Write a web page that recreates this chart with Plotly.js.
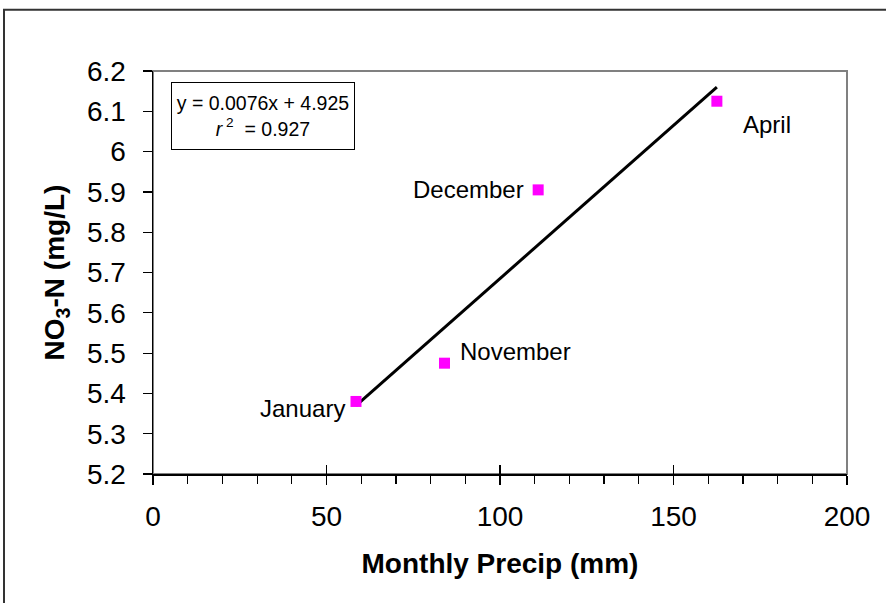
<!DOCTYPE html>
<html>
<head>
<meta charset="utf-8">
<script src="https://cdn.plot.ly/plotly-3.0.1.min.js"></script>
<style>html,body{margin:0;padding:0;background:#fff;}#chart{width:886px;height:603px;}</style>
</head>
<body>
<div id="chart"></div>
<script>
// ---- data ----
const months = ['January', 'November', 'December', 'April'];
const precip = [58.5, 84, 111, 162.5];
const no3 = [5.38, 5.475, 5.905, 6.125];
const slope = 0.0076;
const intercept = 4.925;
const r2 = 0.927;
const xTicks = [0, 50, 100, 150, 200];
const yTicks = [5.2, 5.3, 5.4, 5.5, 5.6, 5.7, 5.8, 5.9, 6.0, 6.1, 6.2];
const yTickText = ['5.2', '5.3', '5.4', '5.5', '5.6', '5.7', '5.8', '5.9', '6', '6.1', '6.2'];

// label placement (style)
const labelAnchor = ['right', 'left', 'right', 'left'];
const labelXShift = [-9, 14, -12, 24];
const labelYShift = [-7, 12, 0, -23];

const FONT = 'Liberation Sans, Arial, sans-serif';

const xMin = Math.min(...precip), xMax = Math.max(...precip);
const trendX = [xMin, xMax];
const trendY = trendX.map(x => slope * x + intercept);

const traces = [
  {
    x: trendX, y: trendY, mode: 'lines', type: 'scatter',
    line: {color: '#000', width: 3}, hoverinfo: 'skip', showlegend: false
  },
  {
    x: precip, y: no3, mode: 'markers', type: 'scatter',
    marker: {symbol: 'square', color: '#FF00FF', size: 11},
    showlegend: false
  },
  {
    x: xTicks, y: xTicks.map(() => null), xaxis: 'x2', yaxis: 'y',
    mode: 'markers', showlegend: false, hoverinfo: 'skip'
  }
];

const annotations = months.map((m, i) => ({
  x: precip[i], y: no3[i], xref: 'x', yref: 'y', text: m, showarrow: false,
  xanchor: labelAnchor[i], yanchor: 'middle', xshift: labelXShift[i], yshift: labelYShift[i],
  font: {family: FONT, size: 24, color: '#000'}
}));

annotations.push({
  xref: 'paper', yref: 'paper', x: 0.1578, y: 0.888, xanchor: 'center', yanchor: 'middle',
  showarrow: false, align: 'center',
  text: 'y = ' + slope.toFixed(4) + 'x + ' + intercept.toFixed(3) + '<br><i>r</i><sup> 2</sup>  = ' + r2.toFixed(3),
  font: {family: FONT, size: 19.5, color: '#000'},
  bordercolor: '#000', borderwidth: 1, borderpad: 2, bgcolor: '#fff',
  width: 178, height: 62
});

const layout = {
  width: 886, height: 603,
  margin: {l: 153, r: 39, t: 71, b: 129, pad: 0},
  paper_bgcolor: '#fff', plot_bgcolor: '#fff',
  font: {family: FONT, color: '#000'},
  xaxis: {
    range: [0, 200], tickmode: 'array', tickvals: xTicks, ticktext: xTicks.map(String),
    showgrid: false, zeroline: false, showline: true, linecolor: '#000', linewidth: 1.5,
    ticks: 'outside', ticklen: 9, tickwidth: 1.2, tickcolor: '#000',
    minor: {dtick: 10, ticks: 'outside', ticklen: 8, tickwidth: 1.2, tickcolor: '#000', showgrid: false},
    tickfont: {family: FONT, size: 28, color: '#000'},
    ticklabelstandoff: 8,
    title: {text: 'Monthly Precip (mm)', font: {family: FONT, size: 28, color: '#000', weight: 'bold'}, standoff: 22}
  },
  xaxis2: {
    overlaying: 'x', anchor: 'y', side: 'bottom', range: [0, 200],
    tickmode: 'array', tickvals: xTicks, showticklabels: false,
    showgrid: false, zeroline: false, showline: false,
    ticks: 'inside', ticklen: 9, tickwidth: 1.2, tickcolor: '#000'
  },
  yaxis: {
    range: [5.2, 6.2], tickmode: 'array', tickvals: yTicks, ticktext: yTickText,
    showgrid: false, zeroline: false, showline: true, linecolor: '#000', linewidth: 1.5,
    ticks: 'outside', ticklen: 9, tickwidth: 1.2, tickcolor: '#000',
    tickfont: {family: FONT, size: 28, color: '#000'},
    ticklabelstandoff: 11,
    title: {text: 'NO<sub>3</sub>-N (mg/L)', font: {family: FONT, size: 28, color: '#000', weight: 'bold'}, standoff: 14}
  },
  shapes: [
    {type: 'rect', xref: 'paper', yref: 'paper', x0: 0, x1: 1, y0: 0, y1: 1,
     line: {color: '#808080', width: 2}, layer: 'below'},
    {type: 'rect', xref: 'paper', yref: 'paper', x0: -0.2147, x1: 1.2, y0: -0.4, y1: 1.152,
     line: {color: '#333', width: 2}, layer: 'below'}
  ],
  annotations: annotations,
  showlegend: false
};

Plotly.newPlot('chart', traces, layout, {displayModeBar: false, staticPlot: true});
</script>
</body>
</html>
